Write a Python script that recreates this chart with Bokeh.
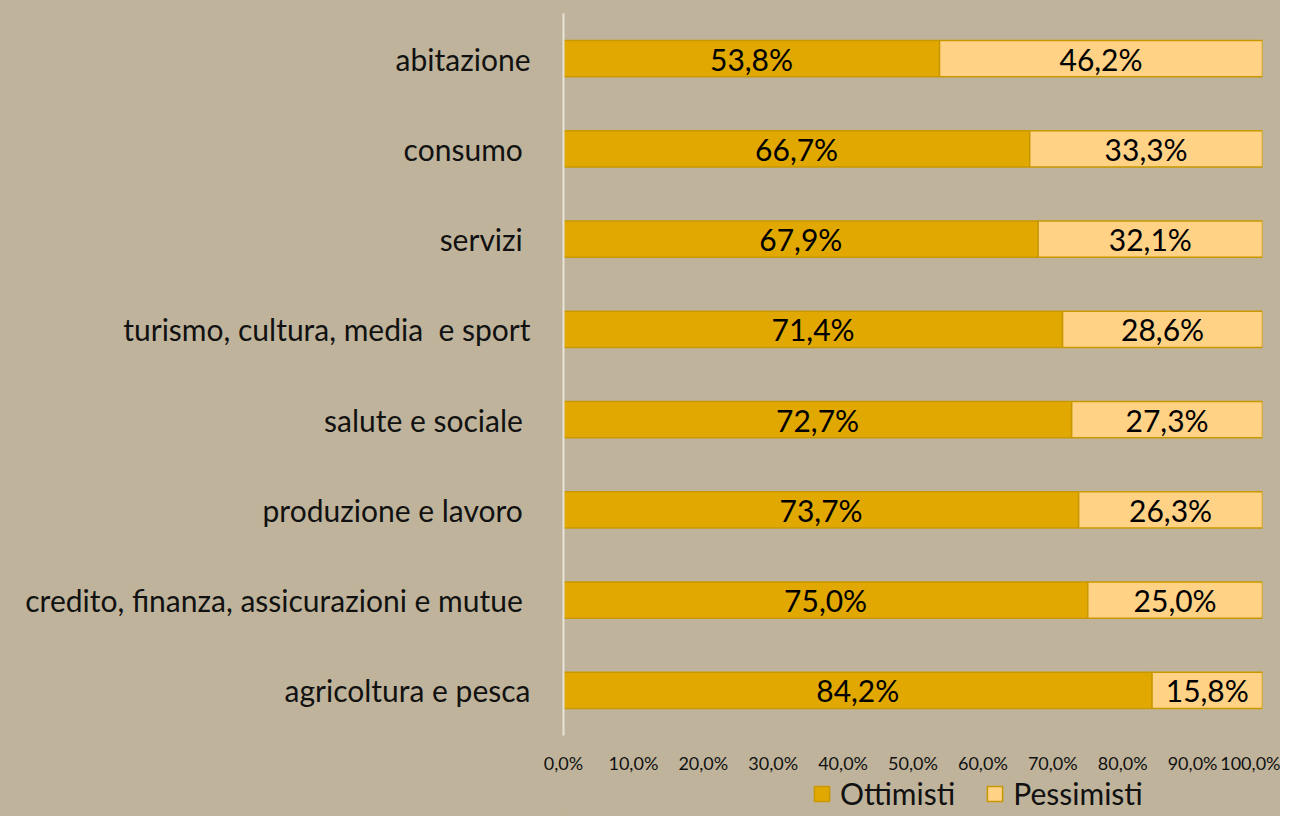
from bokeh.plotting import figure
from bokeh.layouts import column
from bokeh.models import ColumnDataSource, FactorRange, Range1d, FixedTicker, Legend, LegendItem
from bokeh.embed import file_html
from bokeh.resources import INLINE
from bokeh.core.properties import value

categories = ["agricoltura e pesca",
              "credito, finanza, assicurazioni e mutue ",
              "produzione e lavoro ",
              "salute e sociale ",
              "turismo, cultura, media\u00a0 e sport",
              "servizi ",
              "consumo ",
              "abitazione"]
ottimisti = [84.2, 75.0, 73.7, 72.7, 71.4, 67.9, 66.7, 53.8]
pessimisti = [15.8, 25.0, 26.3, 27.3, 28.6, 32.1, 33.3, 46.2]
x_ticks = [0, 10, 20, 30, 40, 50, 60, 70, 80, 90, 100]
series_names = ["Ottimisti", "Pessimisti"]

BG = "#BFB49B"
DARK = "#E0A800"
LIGHT = "#FFD285"
EDGE = "#C99800"
FONT = "Lato"

src = ColumnDataSource(dict(
    cat=categories,
    o_end=list(ottimisti),
    p_end=[a + b for a, b in zip(ottimisti, pessimisti)],
    o_mid=[v / 2 for v in ottimisti],
    p_mid=[a + b / 2 for a, b in zip(ottimisti, pessimisti)],
    o_lab=[f"{v:.1f}%".replace(".", ",") for v in ottimisti],
    p_lab=[f"{v:.1f}%".replace(".", ",") for v in pessimisti],
))

p = figure(width=1280, height=776, y_range=FactorRange(*categories),
           x_range=Range1d(0, 100), output_backend="svg", toolbar_location=None,
           min_border_left=563, min_border_right=18, min_border_top=13, min_border_bottom=39)
# paint the background through CSS (avoids white seams around the frame)
p.background_fill_color = None
p.border_fill_color = None
p.styles = {"background-color": BG}
p.outline_line_color = None
p.xgrid.visible = False
p.ygrid.visible = False

p.hbar(y="cat", left=0, right="o_end", height=0.4, source=src,
       fill_color=DARK, line_color=EDGE, line_width=1.5)
p.hbar(y="cat", left="o_end", right="p_end", height=0.4, source=src,
       fill_color=LIGHT, line_color=EDGE, line_width=1.5)

p.text(x="o_mid", y="cat", text="o_lab", source=src, text_align="center",
       text_baseline="middle", text_font=value(FONT), text_font_size="30px", text_color="black")
p.text(x="p_mid", y="cat", text="p_lab", source=src, text_align="center",
       text_baseline="middle", text_font=value(FONT), text_font_size="30px", text_color="black")

# x axis
p.xaxis.ticker = FixedTicker(ticks=x_ticks)
p.xaxis.major_label_overrides = {t: f"{t:.1f}%".replace(".", ",") for t in x_ticks}
p.xaxis.axis_line_color = None
p.xaxis.major_tick_line_color = None
p.xaxis.minor_tick_line_color = None
p.xaxis.major_label_text_font = FONT
p.xaxis.major_label_text_font_size = "18px"
p.xaxis.major_label_text_color = "#111111"
p.xaxis.major_label_standoff = 10

# y axis
p.yaxis.axis_line_color = "#E8E4DA"
p.yaxis.axis_line_width = 2
p.yaxis.major_tick_line_color = None
p.yaxis.minor_tick_line_color = None
p.yaxis.major_label_text_font = FONT
p.yaxis.major_label_text_font_size = "30px"
p.yaxis.major_label_text_color = "#111111"
p.yaxis.major_label_standoff = 27

# legend strip below the chart (key swatches live outside its visible range)
lg = figure(width=1280, height=40, x_range=Range1d(0, 1), y_range=Range1d(0, 1),
            output_backend="svg", toolbar_location=None,
            x_axis_type=None, y_axis_type=None,
            min_border_left=0, min_border_right=0, min_border_top=0, min_border_bottom=0)
lg.background_fill_color = None
lg.border_fill_color = None
lg.styles = {"background-color": BG}
lg.outline_line_color = None
lg.xgrid.visible = False
lg.ygrid.visible = False
key_src = ColumnDataSource(dict(y=[-10], l=[-10], r=[-9]))
k1 = lg.hbar(y="y", left="l", right="r", height=0.4, source=key_src,
             fill_color=DARK, line_color=EDGE, line_width=1.5)
k2 = lg.hbar(y="y", left="l", right="r", height=0.4, source=key_src,
             fill_color=LIGHT, line_color=EDGE, line_width=1.5)

legend = Legend(items=[LegendItem(label=series_names[0], renderers=[k1]),
                       LegendItem(label=series_names[1], renderers=[k2])],
                orientation="horizontal", location=(244, 0),
                background_fill_alpha=0, border_line_alpha=0,
                label_text_font=FONT, label_text_font_size="30px",
                label_text_color="#111111", label_height=30,
                glyph_width=19, glyph_height=19, label_standoff=9,
                spacing=30, padding=5, margin=0)
lg.add_layout(legend, "center")

layout = column(p, lg, spacing=0)
layout.styles = {"background-color": BG}
open("out.html", "w").write(file_html(layout, INLINE))
